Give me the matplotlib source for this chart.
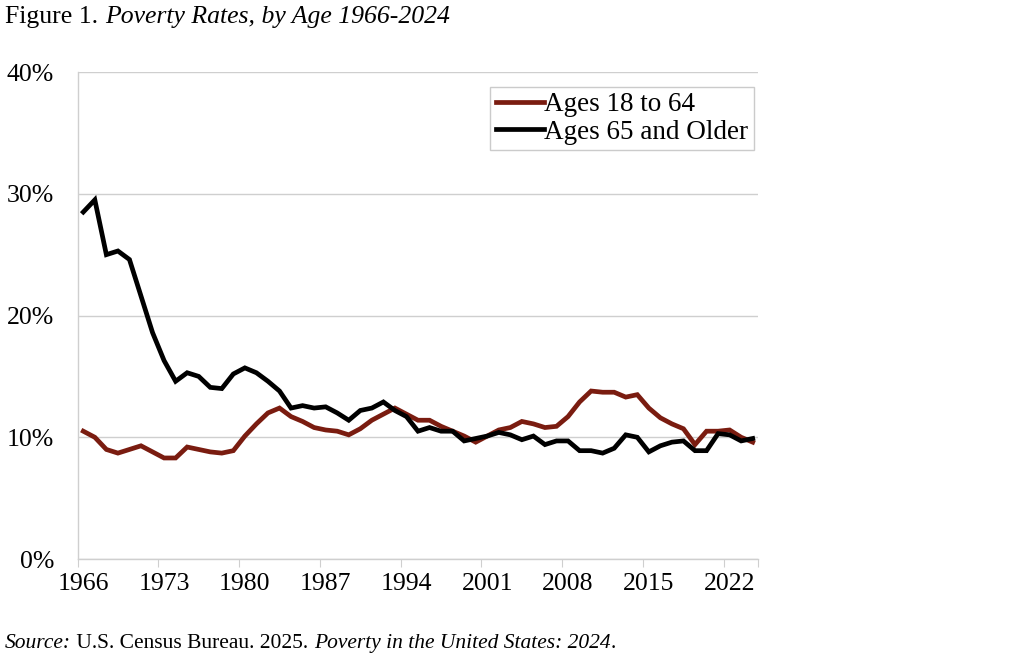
import matplotlib
matplotlib.use("Agg")
import matplotlib.pyplot as plt
import numpy as np

years = list(range(1966, 2025))
ages_18_64 = [10.5, 10.0, 9.0, 8.7, 9.0, 9.3, 8.8, 8.3, 8.3, 9.2,
              9.0, 8.8, 8.7, 8.9, 10.1, 11.1, 12.0, 12.4, 11.7, 11.3,
              10.8, 10.6, 10.5, 10.2, 10.7, 11.4, 11.9, 12.4, 11.9, 11.4,
              11.4, 10.9, 10.5, 10.1, 9.6, 10.1, 10.6, 10.8, 11.3, 11.1,
              10.8, 10.9, 11.7, 12.9, 13.8, 13.7, 13.7, 13.3, 13.5, 12.4,
              11.6, 11.1, 10.7, 9.4, 10.5, 10.5, 10.6, 10.0, 9.6]
ages_65_up = [28.5, 29.5, 25.0, 25.3, 24.6, 21.6, 18.6, 16.3, 14.6, 15.3,
              15.0, 14.1, 14.0, 15.2, 15.7, 15.3, 14.6, 13.8, 12.4, 12.6,
              12.4, 12.5, 12.0, 11.4, 12.2, 12.4, 12.9, 12.2, 11.7, 10.5,
              10.8, 10.5, 10.5, 9.7, 9.9, 10.1, 10.4, 10.2, 9.8, 10.1,
              9.4, 9.7, 9.7, 8.9, 8.9, 8.7, 9.1, 10.2, 10.0, 8.8,
              9.3, 9.6, 9.7, 8.9, 8.9, 10.3, 10.2, 9.7, 9.9]
label_years = [1966, 1973, 1980, 1987, 1994, 2001, 2008, 2015, 2022]
y_ticks = [0, 10, 20, 30, 40]

serif = "Liberation Serif"
red = "#7a1c10"
grid_grey = "#cfcfcf"

fig = plt.figure(figsize=(10.24, 6.59), dpi=100)
ax = fig.add_axes([0.0757, 0.1517, 0.665, 0.739])

ax.plot(years, ages_18_64, color=red, lw=3.4, label="Ages 18 to 64", solid_joinstyle="miter")
ax.plot(years, ages_65_up, color="black", lw=3.4, label="Ages 65 and Older", solid_joinstyle="miter")

ax.set_xlim(1965.5, 2024.5)
ax.set_ylim(0, 40)
ax.set_yticks(y_ticks)
ax.set_yticklabels([f"{v}%" for v in y_ticks], family=serif, fontsize=18.5)
ax.yaxis.grid(True, color=grid_grey, lw=1)
ax.set_axisbelow(True)
ax.tick_params(axis="y", length=0, pad=17)

# tick marks sit between categories, labels centred on the years
ax.set_xticks([y - 0.5 for y in label_years] + [2024.5])
ax.set_xticklabels([])
ax.set_xticks(label_years, minor=True)
ax.set_xticklabels([str(y) for y in label_years], minor=True, family=serif, fontsize=18.5)
ax.tick_params(axis="x", which="major", length=6, color=grid_grey, direction="out")
ax.tick_params(axis="x", which="minor", length=0, pad=10)

for s in ["top", "right"]:
    ax.spines[s].set_visible(False)
for s in ["left", "bottom"]:
    ax.spines[s].set_color(grid_grey)
    ax.spines[s].set_linewidth(1)

leg = ax.legend(loc="upper right", bbox_to_anchor=(0.993, 0.97), prop={"family": serif, "size": 19.5},
                frameon=True, fancybox=False, handlelength=1.8, handletextpad=0.0,
                borderpad=0.2, labelspacing=0.1, borderaxespad=0)
leg.get_frame().set_edgecolor("#bfbfbf")
leg.get_frame().set_linewidth(1)

renderer = fig.canvas.get_renderer()

def run_text(x, y, parts, size):
    # draw pieces of text one after another, each with its own style
    for txt, style in parts:
        t = fig.text(x, y, txt, family=serif, style=style, fontsize=size, va="baseline")
        bb = t.get_window_extent(renderer=renderer)
        x += bb.width / fig.bbox.width

run_text(0.005, 0.965, [("Figure 1. ", "normal"),
                        ("Poverty Rates, by Age 1966-2024", "italic")], 18.5)
run_text(0.005, 0.017, [("Source:", "italic"),
                        (" U.S. Census Bureau. 2025. ", "normal"),
                        ("Poverty in the United States: 2024", "italic"),
                        (".", "normal")], 15.5)

fig.savefig("out.png", dpi=100)
